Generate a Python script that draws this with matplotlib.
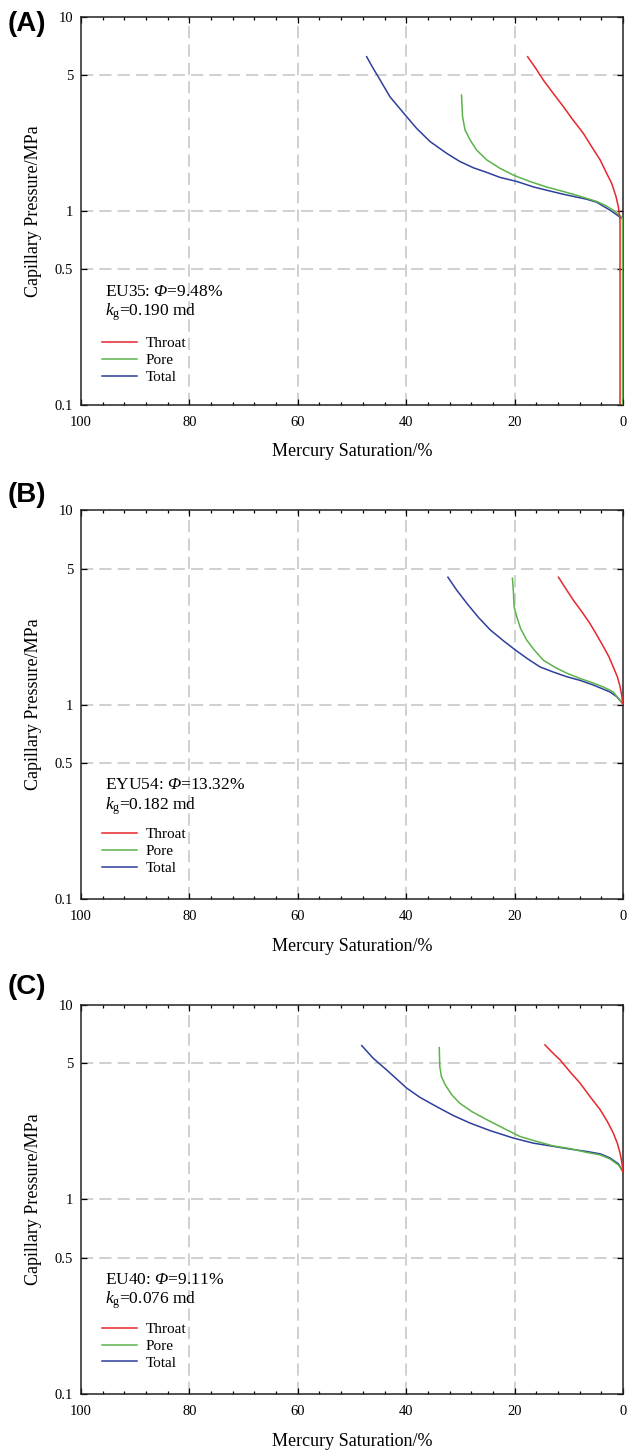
import matplotlib
matplotlib.use("Agg")
import matplotlib.pyplot as plt
from matplotlib.ticker import FixedLocator, MultipleLocator, FixedFormatter

plt.rcParams["font.family"] = ["Liberation Serif", "DejaVu Serif"]
plt.rcParams["mathtext.fontset"] = "custom"
plt.rcParams["mathtext.rm"] = "Liberation Serif"
plt.rcParams["mathtext.it"] = "Liberation Serif:italic"
# italic serif slot used for the upright-forced capital Greek letter
plt.rcParams["mathtext.sf"] = "Liberation Serif:italic"

# ---- data: mercury saturation (%) vs capillary pressure (MPa) ----
# Sample EU35
a_throat_s = [17.6, 16.1, 14.7, 12.9, 11.0, 9.2, 7.3, 5.8, 4.2, 3.0, 2.1,
              1.3, 0.85, 0.55, 0.55]
a_throat_p = [6.24, 5.44, 4.73, 4.05, 3.45, 2.94, 2.51, 2.15, 1.83, 1.56,
              1.39, 1.19, 1.05, 0.90, 0.10]
a_pore_s = [29.8, 29.6, 29.15, 28.2, 27.0, 25.1, 22.7, 20.2, 17.2, 14.1,
            11.0, 9.2, 7.9, 4.85, 3.3, 1.8, 0.25, 0.08, 0.08]
a_pore_p = [3.96, 3.06, 2.62, 2.32, 2.06, 1.83, 1.66, 1.53, 1.42, 1.33,
            1.26, 1.22, 1.19, 1.12, 1.07, 1.01, 0.93, 0.90, 0.10]
a_total_s = [47.3, 46.1, 44.8, 43.0, 40.2, 38.1, 35.6, 32.5, 30.1, 27.6,
             25.1, 22.7, 19.6, 16.5, 14.1, 11.0, 9.2, 6.7, 4.85, 2.4, 0.3]
a_total_p = [6.24, 5.44, 4.73, 3.88, 3.13, 2.67, 2.28, 1.98, 1.80, 1.67,
             1.58, 1.49, 1.42, 1.33, 1.28, 1.22, 1.19, 1.15, 1.11, 1.01, 0.92]

# Sample EYU54
b_throat_s = [11.9, 10.6, 9.2, 7.6, 6.1, 4.85, 3.6, 2.6, 1.8, 1.05, 0.55,
              0.25, 0.05]
b_throat_p = [4.51, 3.96, 3.45, 3.00, 2.61, 2.28, 1.98, 1.76, 1.56, 1.39,
              1.24, 1.12, 1.01]
b_pore_s = [20.4, 20.2, 20.1, 19.6, 18.9, 17.8, 16.4, 14.7, 12.5, 10.4,
            7.9, 5.5, 3.6, 1.8, 0.05]
b_pore_p = [4.46, 3.73, 3.18, 2.83, 2.46, 2.15, 1.91, 1.69, 1.55, 1.45,
            1.36, 1.29, 1.23, 1.16, 1.01]
b_total_s = [32.3, 30.7, 28.8, 26.7, 24.5, 22.1, 19.9, 17.5, 15.3, 12.9,
             10.4, 7.9, 5.5, 2.4, 1.2, 0.05]
b_total_p = [4.51, 3.88, 3.31, 2.81, 2.42, 2.13, 1.91, 1.71, 1.56, 1.47,
             1.39, 1.33, 1.26, 1.16, 1.10, 1.01]

# Sample EU40
c_throat_s = [14.4, 13.2, 11.6, 9.8, 7.9, 6.1, 4.2, 2.9, 1.8, 1.05, 0.55,
              0.18, 0.05]
c_throat_p = [6.20, 5.73, 5.19, 4.52, 3.94, 3.37, 2.88, 2.51, 2.19, 1.94,
              1.73, 1.53, 1.39]
c_pore_s = [33.9, 33.8, 33.5, 32.8, 31.6, 30.1, 27.9, 25.1, 22.1, 19.0,
            15.9, 12.9, 9.8, 6.7, 4.2, 2.4, 0.85, 0.05]
c_pore_p = [6.00, 4.80, 4.26, 3.87, 3.44, 3.11, 2.82, 2.56, 2.32, 2.10,
            1.98, 1.88, 1.82, 1.74, 1.69, 1.61, 1.50, 1.39]
c_total_s = [48.2, 46.1, 43.6, 39.9, 37.5, 34.4, 31.3, 28.2, 24.5, 20.2,
             16.5, 12.9, 9.8, 6.7, 4.2, 2.4, 0.85, 0.05]
c_total_p = [6.15, 5.30, 4.61, 3.72, 3.34, 2.99, 2.69, 2.46, 2.25, 2.06,
             1.94, 1.87, 1.81, 1.76, 1.71, 1.63, 1.52, 1.39]

panel_tags = ["(A)", "(B)", "(C)"]
sample_names = ["EU35", "EYU54", "EU40"]
porosity = ["9.48", "13.32", "9.11"]
permeability = ["0.190", "0.182", "0.076"]
series_names = ["Throat", "Pore", "Total"]
series_colors = ["#e8262d", "#5cb34a", "#2e3f9c"]

x_ticks = [100, 80, 60, 40, 20, 0]
y_ticks = [0.1, 0.5, 1, 5, 10]
y_tick_labels = ["0.1", "0.5", "1", "5", "10"]

panels = [
    (a_throat_s, a_throat_p, a_pore_s, a_pore_p, a_total_s, a_total_p),
    (b_throat_s, b_throat_p, b_pore_s, b_pore_p, b_total_s, b_total_p),
    (c_throat_s, c_throat_p, c_pore_s, c_pore_p, c_total_s, c_total_p),
]

W, H = 628, 1453
fig = plt.figure(figsize=(W / 100, H / 100), dpi=100)

# axes boxes in pixels: (left, top, right, bottom)
boxes = [(81, 17, 623, 405), (81, 510, 623, 899), (81, 1004.5, 623, 1394)]
tag_y = [24, 495.5, 987]
legend_y = [0.115, 0.123, 0.123]

grid_kw = dict(color="#c4c4c4", linewidth=1.1, linestyle=(0, (8, 4)), zorder=0)

for i, (box, data) in enumerate(zip(boxes, panels)):
    l, t, r, b = box
    ax = fig.add_axes([l / W, 1 - b / H, (r - l) / W, (b - t) / H])
    ts, tp, ps, pp, ss, sp = data

    ax.set_yscale("log")
    ax.set_xlim(100, 0)
    ax.set_ylim(0.1, 10)

    # dashed grid at major positions
    for xv in x_ticks[1:-1]:
        ax.axvline(xv, **grid_kw)
    for yv in y_ticks[1:-1]:
        ax.axhline(yv, **grid_kw)

    ln_total, = ax.plot(ss, sp, color=series_colors[2], lw=1.1, zorder=3)
    ln_pore, = ax.plot(ps, pp, color=series_colors[1], lw=1.1, zorder=4)
    ln_throat, = ax.plot(ts, tp, color=series_colors[0], lw=1.1, zorder=5)

    ax.xaxis.set_major_locator(FixedLocator(x_ticks))
    ax.xaxis.set_minor_locator(MultipleLocator(4))
    ax.yaxis.set_major_locator(FixedLocator(y_ticks))
    ax.yaxis.set_major_formatter(FixedFormatter(y_tick_labels))
    ax.yaxis.set_minor_locator(FixedLocator([]))
    ax.tick_params(which="both", direction="in", top=True, right=True,
                   color="black", width=0.9)
    ax.tick_params(which="major", length=4.5, labelsize=10.5)
    ax.tick_params(which="minor", length=2.5)
    ax.tick_params(axis="x", which="major", pad=8)
    ax.tick_params(axis="y", which="major", pad=5.5)
    for sp_ in ax.spines.values():
        sp_.set_linewidth(1.1)
        sp_.set_color("#222222")

    ax.set_xlabel("Mercury Saturation/%", fontsize=13)
    ax.xaxis.set_label_coords(0.5, -0.099)
    ax.set_ylabel("Capillary Pressure/MPa", fontsize=13)
    ax.yaxis.set_label_coords(-0.072, 0.5)

    ax.text(0.044, 0.282,
            sample_names[i] + r": $\mathsf{Φ}$=" + porosity[i] + "%",
            transform=ax.transAxes, fontsize=12.5, va="baseline", ha="left")
    ax.text(0.044, 0.231,
            r"$\mathit{k}_{\mathrm{g}}$=" + permeability[i] + " md",
            transform=ax.transAxes, fontsize=12.5, va="baseline", ha="left")

    ax.legend([ln_throat, ln_pore, ln_total], series_names,
              loc="center left", bbox_to_anchor=(0.039, legend_y[i]),
              frameon=False, fontsize=11, handlelength=2.3,
              handletextpad=0.55, labelspacing=0.21, borderpad=0,
              borderaxespad=0)

    fig.text(8 / W, 1 - tag_y[i] / H, panel_tags[i], fontsize=20,
             fontweight="bold", family="Liberation Sans",
             ha="left", va="center")

fig.savefig("out.png", dpi=100)
